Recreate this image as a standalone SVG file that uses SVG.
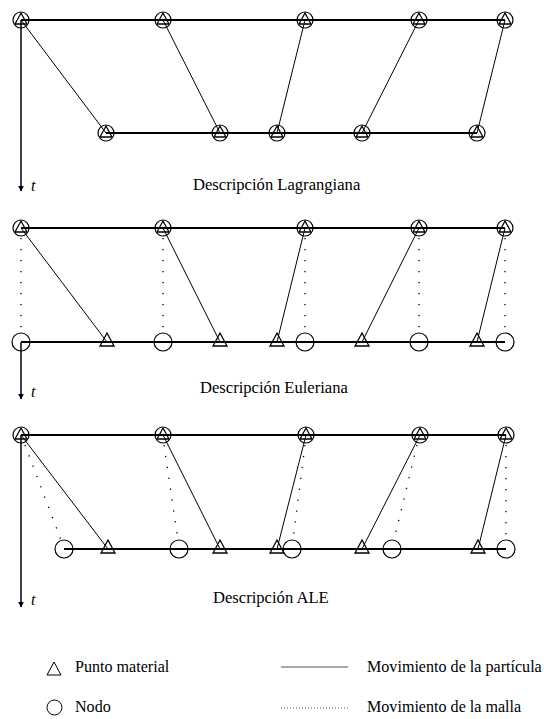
<svg xmlns="http://www.w3.org/2000/svg" xmlns:xlink="http://www.w3.org/1999/xlink" width="544" height="719" viewBox="0 0 544 719">
  <style>
    .bg { fill: #ffffff; }
    .node { fill: none; stroke: #000; stroke-width: 1.2; }
    .mat { fill: none; stroke: #000; stroke-width: 1.3; stroke-linejoin: miter; }
    .bar { stroke: #000; stroke-width: 2.2; fill: none; }
    .path { stroke: #000; stroke-width: 1; fill: none; }
    .mesh { stroke: #000; stroke-width: 1.3; fill: none; stroke-dasharray: 1.3 9.7; }
    .axis { stroke: #000; stroke-width: 1.5; fill: none; }
    .lbl { font-family: "Liberation Serif", "Times New Roman", serif; font-size: 16.6px; fill: #000; }
    .leg { font-family: "Liberation Serif", "Times New Roman", serif; font-size: 16.1px; fill: #000; }
    .t { font-family: "Liberation Serif", "Times New Roman", serif; font-style: italic; font-size: 16px; fill: #000; }
  </style>
  <defs>
    <marker id="arr" viewBox="0 0 10 10" refX="9" refY="5" markerWidth="6" markerHeight="6" markerUnits="userSpaceOnUse" orient="auto">
      <path d="M0,0 L10,5 L0,10 z" fill="#000"/>
    </marker>
    <!-- node with particle on it -->
    <g id="both">
      <circle class="node" r="8"/>
      <path class="mat" d="M0,-7 L6,4 L-6,4 Z"/>
    </g>
    <!-- material point alone -->
    <path id="tri" class="mat" d="M0,-9 L7,4 L-7,4 Z"/>
    <!-- mesh node alone -->
    <circle id="circ" class="node" r="9"/>
  </defs>
  <rect class="bg" x="0" y="0" width="544" height="719"/>

  <!-- ===== Lagrangian description ===== -->
  <g id="connectors-lagrange">
    <line class="bar" x1="21" y1="20" x2="505" y2="20"/>
    <line class="bar" x1="106" y1="133" x2="477" y2="133"/>
    <line class="path" x1="21" y1="20" x2="106" y2="133"/>
    <line class="path" x1="163" y1="20" x2="220" y2="133"/>
    <line class="path" x1="305" y1="20" x2="277" y2="133"/>
    <line class="path" x1="419" y1="20" x2="362" y2="133"/>
    <line class="path" x1="505" y1="20" x2="477" y2="133"/>
    <line class="axis" x1="21" y1="20" x2="21" y2="191" marker-end="url(#arr)"/>
  </g>
  <g id="lag-top">
    <use xlink:href="#both" x="21" y="20"/>
    <use xlink:href="#both" x="163" y="20"/>
    <use xlink:href="#both" x="305" y="20"/>
    <use xlink:href="#both" x="419" y="20"/>
    <use xlink:href="#both" x="505" y="20"/>
  </g>
  <g id="lag-bottom">
    <use xlink:href="#both" x="106" y="133"/>
    <use xlink:href="#both" x="220" y="133"/>
    <use xlink:href="#both" x="277" y="133"/>
    <use xlink:href="#both" x="362" y="133"/>
    <use xlink:href="#both" x="477" y="133"/>
  </g>
  <text class="t" x="31" y="191">t</text>
  <text class="lbl" x="193" y="190">Descripción Lagrangiana</text>

  <!-- ===== Eulerian description ===== -->
  <g id="connectors-euler">
    <line class="bar" x1="21" y1="228" x2="505" y2="228"/>
    <line class="bar" x1="21" y1="342" x2="505" y2="342"/>
    <line class="path" x1="21" y1="228" x2="107" y2="342"/>
    <line class="path" x1="163" y1="228" x2="220" y2="342"/>
    <line class="path" x1="305" y1="228" x2="277" y2="342"/>
    <line class="path" x1="419" y1="228" x2="362" y2="342"/>
    <line class="path" x1="505" y1="228" x2="477" y2="342"/>
    <line class="mesh" x1="21" y1="238" x2="21" y2="333"/>
    <line class="mesh" x1="163" y1="238" x2="163" y2="333"/>
    <line class="mesh" x1="305" y1="238" x2="305" y2="333"/>
    <line class="mesh" x1="419" y1="238" x2="419" y2="333"/>
    <line class="mesh" x1="505" y1="238" x2="505" y2="333"/>
    <line class="axis" x1="21" y1="342" x2="21" y2="399" marker-end="url(#arr)"/>
  </g>
  <g id="eul-top">
    <use xlink:href="#both" x="21" y="228"/>
    <use xlink:href="#both" x="163" y="228"/>
    <use xlink:href="#both" x="305" y="228"/>
    <use xlink:href="#both" x="419" y="228"/>
    <use xlink:href="#both" x="505" y="228"/>
  </g>
  <g id="eul-nodes">
    <use xlink:href="#circ" x="21" y="342"/>
    <use xlink:href="#circ" x="163" y="342"/>
    <use xlink:href="#circ" x="305" y="342"/>
    <use xlink:href="#circ" x="419" y="342"/>
    <use xlink:href="#circ" x="505" y="342"/>
  </g>
  <g id="eul-points">
    <use xlink:href="#tri" x="107" y="342"/>
    <use xlink:href="#tri" x="220" y="342"/>
    <use xlink:href="#tri" x="277" y="342"/>
    <use xlink:href="#tri" x="362" y="342"/>
    <use xlink:href="#tri" x="477" y="342"/>
  </g>
  <text class="t" x="31" y="397">t</text>
  <text class="lbl" x="200" y="393">Descripción Euleriana</text>

  <!-- ===== ALE description ===== -->
  <g id="connectors-ale">
    <line class="bar" x1="21" y1="435" x2="506" y2="435"/>
    <line class="bar" x1="64" y1="549" x2="506" y2="549"/>
    <line class="path" x1="21" y1="435" x2="108" y2="549"/>
    <line class="path" x1="163" y1="435" x2="220" y2="549"/>
    <line class="path" x1="306" y1="435" x2="277" y2="549"/>
    <line class="path" x1="420" y1="435" x2="362" y2="549"/>
    <line class="path" x1="506" y1="435" x2="478" y2="549"/>
    <line class="mesh" x1="25" y1="445" x2="61" y2="540"/>
    <line class="mesh" x1="164" y1="445" x2="178" y2="540"/>
    <line class="mesh" x1="305" y1="445" x2="293" y2="540"/>
    <line class="mesh" x1="417" y1="445" x2="394" y2="540"/>
    <line class="mesh" x1="506" y1="445" x2="506" y2="540"/>
    <line class="axis" x1="21" y1="435" x2="21" y2="607" marker-end="url(#arr)"/>
  </g>
  <g id="ale-top">
    <use xlink:href="#both" x="21" y="435"/>
    <use xlink:href="#both" x="163" y="435"/>
    <use xlink:href="#both" x="306" y="435"/>
    <use xlink:href="#both" x="420" y="435"/>
    <use xlink:href="#both" x="506" y="435"/>
  </g>
  <g id="ale-nodes">
    <use xlink:href="#circ" x="64" y="549"/>
    <use xlink:href="#circ" x="179" y="549"/>
    <use xlink:href="#circ" x="292" y="549"/>
    <use xlink:href="#circ" x="392" y="549"/>
    <use xlink:href="#circ" x="506" y="549"/>
  </g>
  <g id="ale-points">
    <use xlink:href="#tri" x="108" y="549"/>
    <use xlink:href="#tri" x="220" y="549"/>
    <use xlink:href="#tri" x="277" y="549"/>
    <use xlink:href="#tri" x="362" y="549"/>
    <use xlink:href="#tri" x="478" y="549"/>
  </g>
  <text class="t" x="31" y="605">t</text>
  <text class="lbl" x="213" y="603">Descripción ALE</text>

  <!-- ===== Legend ===== -->
  <g id="legend">
    <path class="mat" d="M54,662 L61,675 L47,675 Z" style="stroke-width:1"/>
    <text class="leg" x="75" y="672">Punto material</text>
    <circle class="node" cx="54.5" cy="707.5" r="7.5" style="stroke-width:1"/>
    <text class="leg" x="75" y="712">Nodo</text>
    <line x1="281" y1="667" x2="348" y2="667" stroke="#555" stroke-width="1.2"/>
    <text class="leg" x="367" y="672">Movimiento de la partícula</text>
    <line x1="281" y1="708" x2="348" y2="708" stroke="#555" stroke-width="1" stroke-dasharray="1 2"/>
    <text class="leg" x="367" y="712">Movimiento de la malla</text>
  </g>
</svg>
